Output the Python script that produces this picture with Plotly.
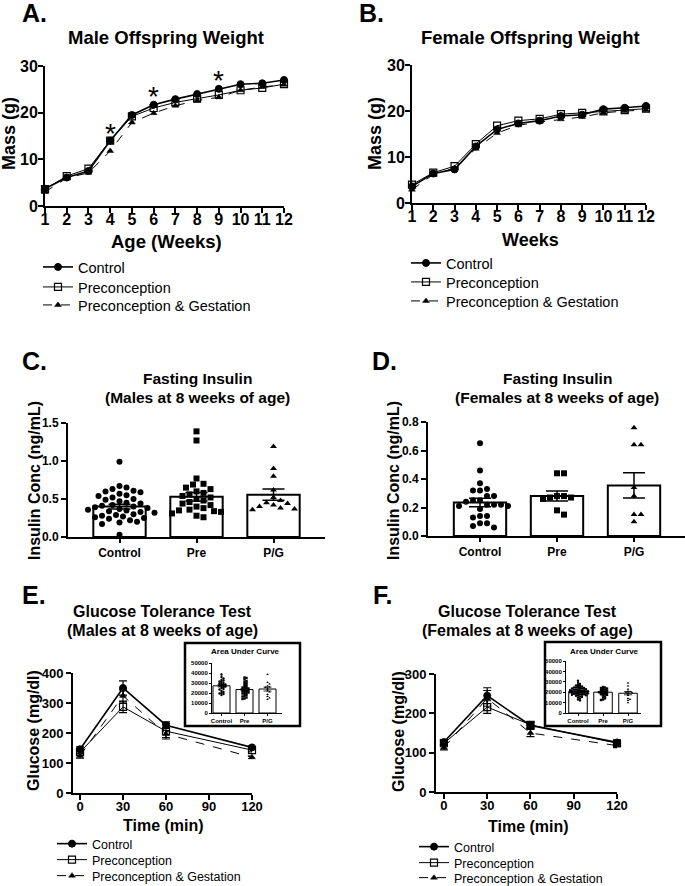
import plotly.graph_objects as go
import numpy as np

W, H = 685, 886
FONT = "Liberation Sans, Arial, Helvetica, sans-serif"

# ---------------- data ----------------
weeks = list(range(1, 13))
male_ctrl = [3.7, 6.1, 7.5, 14.0, 19.5, 21.7, 22.9, 24.0, 25.1, 26.1, 26.3, 27.0]
male_pre = [3.6, 6.4, 8.0, 14.0, 19.2, 21.0, 22.2, 23.0, 23.8, 24.8, 25.3, 26.1]
male_pg = [3.0, 6.0, 7.1, 11.8, 17.9, 19.9, 21.5, 22.6, 23.3, 24.8, 25.5, 26.0]
male_sig_weeks = [4, 6, 9]
male_sig_y = [16.7, 24.6, 27.9]

female_ctrl = [3.6, 6.4, 7.3, 12.3, 16.0, 17.3, 17.9, 18.9, 19.2, 20.4, 20.7, 21.1]
female_pre = [4.0, 6.6, 8.0, 12.8, 16.8, 17.9, 18.3, 19.3, 19.6, 19.9, 20.2, 20.5]
female_pg = [2.9, 6.2, 7.6, 11.8, 15.2, 16.9, 17.6, 18.2, 18.7, 19.6, 20.0, 20.2]

series_names = ["Control", "Preconception", "Preconception & Gestation"]
groups = ["Control", "Pre", "P/G"]

# fasting insulin, males (ng/mL)
ins_m_ctrl = [0.99, 0.67, 0.65, 0.63, 0.61, 0.60, 0.59, 0.57, 0.55, 0.54, 0.52, 0.50, 0.49,
              0.47, 0.45, 0.44, 0.42, 0.41, 0.40, 0.39, 0.38, 0.37, 0.36, 0.35, 0.34, 0.33,
              0.32, 0.30, 0.29, 0.28, 0.27, 0.26, 0.25, 0.24, 0.22, 0.20, 0.19, 0.17, 0.03]
ins_m_pre = [1.39, 1.27, 0.77, 0.70, 0.69, 0.65, 0.63, 0.60, 0.58, 0.56, 0.54, 0.52, 0.50,
             0.48, 0.46, 0.44, 0.42, 0.40, 0.38, 0.36, 0.35, 0.34, 0.33, 0.31, 0.28, 0.26]
ins_m_pg = [1.19, 0.90, 0.80, 0.62, 0.52, 0.48, 0.45, 0.44, 0.42, 0.40, 0.38, 0.37, 0.36]
ins_m_mean = [0.40, 0.53, 0.557]
ins_m_sem = [0.03, 0.055, 0.075]

# fasting insulin, females (ng/mL)
ins_f_ctrl = [0.65, 0.46, 0.37, 0.33, 0.32, 0.32, 0.28, 0.28, 0.25, 0.25, 0.24, 0.22,
              0.22, 0.22, 0.21, 0.21, 0.19, 0.14, 0.14, 0.13, 0.09, 0.09, 0.07, 0.06]
ins_f_pre = [0.44, 0.44, 0.28, 0.28, 0.27, 0.27, 0.26, 0.18, 0.15]
ins_f_pg = [0.76, 0.64, 0.64, 0.34, 0.28, 0.15, 0.15, 0.10]
ins_f_mean = [0.235, 0.28, 0.355]
ins_f_sem = [0.03, 0.035, 0.088]

# glucose tolerance test
gtt_time = [0, 30, 60, 120]
gtt_m_ctrl = [146, 350, 226, 152]
gtt_m_ctrl_err = [8, 24, 11, 5]
gtt_m_pre = [136, 287, 206, 143]
gtt_m_pre_err = [10, 19, 26, 6]
gtt_m_pg = [124, 324, 197, 119]
gtt_m_pg_err = [8, 20, 12, 4]

gtt_f_ctrl = [127, 245, 169, 126]
gtt_f_ctrl_err = [6, 20, 8, 5]
gtt_f_pre = [124, 216, 171, 124]
gtt_f_pre_err = [6, 16, 8, 6]
gtt_f_pg = [113, 238, 150, 118]
gtt_f_pg_err = [6, 20, 9, 5]

# area under curve insets
auc_m_ctrl = [38500, 36000, 34500, 33000, 32500, 31500, 31000, 30000, 29500, 29000, 28500,
              28000, 27500, 27000, 26500, 26000, 25000, 24000, 23500, 22000, 21000, 20000,
              19500, 19000, 18000]
auc_m_pre = [35500, 35000, 33500, 32000, 31000, 30000, 29000, 28000, 27000, 26000, 25500,
             25000, 24500, 24000, 23500, 23000, 22500, 22000, 21500, 21000, 20500, 20000,
             19500, 19000, 18000, 17000, 16500, 15500, 14500, 14000]
auc_m_pg = [38500, 30500, 29000, 27000, 26000, 25500, 24000, 22000, 21000, 18500, 16500,
            15000, 13500]
auc_m_mean = [27200, 23500, 24000]
auc_m_sem = [1100, 900, 2000]

auc_f_ctrl = [31000, 29000, 28000, 27000, 26500, 26000, 25500, 25000, 24500, 24500, 24000,
              24000, 23500, 23500, 23000, 23000, 22500, 22500, 22000, 22000, 22000, 21500,
              21500, 21000, 21000, 21000, 20500, 20500, 20000, 20000, 20000, 19500, 19500,
              19000, 19000, 19000, 18500, 18500, 18000, 18000, 17500, 17500, 17000, 17000,
              16500, 16000, 15500, 15000, 14000, 13000, 12000]
auc_f_pre = [25000, 24500, 24000, 23500, 23000, 22500, 22000, 21500, 21000, 20500, 20000,
             20000, 19500, 19000, 18500, 18000, 17500, 17000, 16000, 15000, 14000, 13000, 12500]
auc_f_pg = [29000, 26000, 23000, 21000, 20500, 20000, 19500, 19000, 17000, 14000, 13000,
            12000, 10000]
auc_f_mean = [20800, 20000, 19000]
auc_f_sem = [500, 700, 1500]


# ---------------- helpers ----------------
def px(x):
    return x / W


def py(y):
    return 1 - y / H


def swarm(vals, yscale, xscale, diam):
    """Deterministic beeswarm offsets (in x data units) so markers do not overlap."""
    vals = np.asarray(vals, float)
    order = np.argsort(-vals, kind="stable")
    placed = []
    off = np.zeros(len(vals))
    step = diam * 0.5
    cands = [0.0]
    for j in range(1, 80):
        cands += [j * step, -j * step]
    for i in order:
        yp = vals[i] * yscale
        c = 0.0
        for c in cands:
            if all((c - a) ** 2 + (yp - b) ** 2 >= diam ** 2 for a, b in placed):
                break
        placed.append((c, yp))
        off[i] = c / xscale
    return off


fig = go.Figure()
annotations = []
shapes = []
layout = dict(width=W, height=H, margin=dict(l=0, r=0, t=0, b=0, autoexpand=False),
              paper_bgcolor="white", plot_bgcolor="rgba(0,0,0,0)", showlegend=True)


def axis_style(tsize, lw=2, ticklen=5, tickw=2):
    return dict(showline=True, linecolor="black", linewidth=lw, ticks="outside",
                ticklen=ticklen, tickwidth=tickw, tickcolor="black", showgrid=False,
                zeroline=False, fixedrange=True, automargin=False,
                tickfont=dict(family=FONT, size=tsize, color="black", weight="bold"))


def make_axes(n, x0, x1, ytop, ybot, xr, yr, tsize, xextra=None, yextra=None, lw=2,
              ticklen=5, tickw=2):
    xa = "xaxis" if n == 1 else f"xaxis{n}"
    ya = "yaxis" if n == 1 else f"yaxis{n}"
    xid = "x" if n == 1 else f"x{n}"
    yid = "y" if n == 1 else f"y{n}"
    xd = axis_style(tsize, lw, ticklen, tickw)
    xd.update(domain=[px(x0), px(x1)], range=xr, anchor=yid)
    yd = axis_style(tsize, lw, ticklen, tickw)
    yd.update(domain=[py(ybot), py(ytop)], range=yr, anchor=xid)
    if xextra:
        xd.update(xextra)
    if yextra:
        yd.update(yextra)
    layout[xa] = xd
    layout[ya] = yd
    return xid, yid


def text(x, y, s, size, bold=True, angle=0, xanchor="center"):
    annotations.append(dict(x=px(x), y=py(y), xref="paper", yref="paper", text=s,
                            showarrow=False, textangle=angle, xanchor=xanchor,
                            yanchor="middle",
                            font=dict(family=FONT, size=size, color="black",
                                      weight="bold" if bold else "normal")))


legend_count = [0]


def new_legend(x, y, size):
    """One legend per entry so each row can be placed exactly."""
    legend_count[0] += 1
    k = legend_count[0]
    key = "legend" if k == 1 else f"legend{k}"
    layout[key] = dict(x=px(x), y=py(y), xref="container", yref="container",
                       xanchor="left", yanchor="middle", bgcolor="rgba(0,0,0,0)",
                       borderwidth=0, tracegroupgap=0, itemclick=False,
                       itemdoubleclick=False,
                       font=dict(family=FONT, size=size, color="black"))
    return key


styles = [
    dict(line=dict(color="black", width=1.6, dash="solid"),
         marker=dict(symbol="circle", size=7, color="black",
                     line=dict(color="black", width=1))),
    dict(line=dict(color="black", width=1.0, dash="solid"),
         marker=dict(symbol="square-open", size=7, color="black",
                     line=dict(color="black", width=1.2))),
    dict(line=dict(color="black", width=1.0, dash="dash"),
         marker=dict(symbol="triangle-up", size=6, color="black",
                     line=dict(color="black", width=0.5))),
]

# ---------------- Panel A ----------------
xa, ya = make_axes(1, 45, 284, 66, 206, [1, 12], [0, 30], 16,
                   xextra=dict(tickvals=weeks, ticklabelstandoff=-7),
                   yextra=dict(tickvals=[0, 10, 20, 30], ticklabelstandoff=-3))
for name, vals, st, ly in zip(series_names, [male_ctrl, male_pre, male_pg], styles,
                              [267, 287, 305]):
    fig.add_trace(go.Scatter(x=weeks, y=vals, mode="lines+markers", name=name, xaxis=xa,
                             yaxis=ya, cliponaxis=False, legend=new_legend(38, ly, 14.5),
                             **st))
for wk, yv in zip(male_sig_weeks, male_sig_y):
    annotations.append(dict(x=wk, y=yv, xref="x", yref="y", text="*", showarrow=False,
                            yshift=-5, font=dict(family=FONT, size=28, color="black")))
text(20, 13, "A.", 25, xanchor="left")
text(166, 37, "Male Offspring Weight", 18.5)
text(9, 134, "Mass (g)", 18, angle=-90)
text(166, 242, "Age (Weeks)", 18.5)

# ---------------- Panel B ----------------
xa, ya = make_axes(2, 412, 646, 65, 203, [1, 12], [0, 30], 16,
                   xextra=dict(tickvals=weeks, ticklabelstandoff=-7),
                   yextra=dict(tickvals=[0, 10, 20, 30], ticklabelstandoff=-3))
for name, vals, st, ly in zip(series_names, [female_ctrl, female_pre, female_pg], styles,
                              [263, 282, 301]):
    fig.add_trace(go.Scatter(x=weeks, y=vals, mode="lines+markers", name=name, xaxis=xa,
                             yaxis=ya, cliponaxis=False, legend=new_legend(406, ly, 14.5),
                             **st))
text(357, 13, "B.", 25, xanchor="left")
text(530, 37, "Female Offspring Weight", 18.5)
text(375, 134, "Mass (g)", 18, angle=-90)
text(530, 240, "Weeks", 18)

# ---------------- Panels C & D (fasting insulin) ----------------
ins_symbols = ["circle", "square", "triangle-up"]


def insulin_panel(n, x0, x1, ytop, ybot, yr, ytick, lists, means, sems, first_center):
    spacing = 77.0
    left = -(first_center - x0) / spacing
    right = left + (x1 - x0) / spacing
    xid, yid = make_axes(n, x0, x1, ytop, ybot, [left, right], yr, 12,
                         xextra=dict(tickvals=[0, 1, 2], ticktext=groups, ticklen=4),
                         yextra=dict(tickvals=ytick,
                                     ticktext=[f"{v:.1f}" for v in ytick]))
    fig.add_trace(go.Bar(x=[0, 1, 2], y=means, width=0.68, xaxis=xid, yaxis=yid,
                         marker=dict(color="white", line=dict(color="black", width=2)),
                         showlegend=False))
    yscale = (ybot - ytop) / (yr[1] - yr[0])
    for k, (vals, sym) in enumerate(zip(lists, ins_symbols)):
        off = swarm(vals, yscale, spacing, 7.0)
        fig.add_trace(go.Scatter(x=k + off, y=vals, mode="markers", xaxis=xid, yaxis=yid,
                                 cliponaxis=False, showlegend=False,
                                 marker=dict(symbol=sym, size=6, color="black",
                                             line=dict(width=0))))
    fig.add_trace(go.Scatter(x=[0, 1, 2], y=means, mode="markers", xaxis=xid, yaxis=yid,
                             showlegend=False, marker=dict(size=1, color="rgba(0,0,0,0)"),
                             error_y=dict(type="data", array=sems, color="black",
                                          thickness=1.5, width=11)))
    return xid, yid


insulin_panel(3, 68, 325, 423, 537, [0, 1.5], [0.0, 0.5, 1.0, 1.5],
              [ins_m_ctrl, ins_m_pre, ins_m_pg], ins_m_mean, ins_m_sem, 119.5)
text(20, 361, "C.", 25, xanchor="left")
text(197, 379, "Fasting Insulin", 15.5)
text(197, 397, "(Males at 8 weeks of age)", 15.5)
text(34, 481, "Insulin Conc (ng/mL)", 16, angle=-90)

insulin_panel(4, 428, 685, 422, 536, [0, 0.8], [0.0, 0.2, 0.4, 0.6, 0.8],
              [ins_f_ctrl, ins_f_pre, ins_f_pg], ins_f_mean, ins_f_sem, 480)
text(370, 361, "D.", 25, xanchor="left")
text(557, 379, "Fasting Insulin", 15.5)
text(557, 397, "(Females at 8 weeks of age)", 15.5)
text(393, 481, "Insulin Conc (ng/mL)", 16, angle=-90)


# ---------------- Panels E & F (GTT) ----------------
def gtt_panel(n, x0, x1, ytop, ybot, xr, yr, data, leg_x, leg_ys):
    xid, yid = make_axes(n, x0, x1, ytop, ybot, xr, yr, 13,
                         xextra=dict(tickvals=[0, 30, 60, 90, 120], ticklabelstandoff=-5),
                         yextra=dict(dtick=100, tick0=0))
    for name, (vals, err), st, ly in zip(series_names, data, styles, leg_ys):
        fig.add_trace(go.Scatter(x=gtt_time, y=vals, mode="lines+markers", name=name,
                                 xaxis=xid, yaxis=yid, cliponaxis=False,
                                 legend=new_legend(leg_x, ly, 12.5),
                                 error_y=dict(type="data", array=err, color="black",
                                              thickness=1.2, width=4), **st))
    return xid, yid


def auc_panel(n, x0, x1, ytop, ybot, first_center, spacing, lists, means, sems):
    left = -(first_center - x0) / spacing
    right = left + (x1 - x0) / spacing
    xid, yid = make_axes(n, x0, x1, ytop, ybot, [left, right], [0, 50000], 6,
                         xextra=dict(tickvals=[0, 1, 2], ticktext=groups, ticklen=2),
                         yextra=dict(tickvals=[0, 10000, 20000, 30000, 40000, 50000],
                                     ticktext=["0", "10000", "20000", "30000", "40000",
                                               "50000"], ticklen=2),
                         lw=1, ticklen=2, tickw=1)
    fig.add_trace(go.Bar(x=[0, 1, 2], y=means, width=0.74, xaxis=xid, yaxis=yid,
                         showlegend=False,
                         marker=dict(color="white", line=dict(color="black", width=1))))
    yscale = (ybot - ytop) / 50000.0
    for k, vals in enumerate(lists):
        off = swarm(vals, yscale, spacing, 2.0)
        sym = ins_symbols[k]
        fig.add_trace(go.Scatter(x=k + off, y=vals, mode="markers", xaxis=xid, yaxis=yid,
                                 cliponaxis=False, showlegend=False,
                                 marker=dict(symbol=sym, size=2.4, color="black",
                                             line=dict(width=0))))
    fig.add_trace(go.Scatter(x=[0, 1, 2], y=means, mode="markers", xaxis=xid, yaxis=yid,
                             showlegend=False, marker=dict(size=1, color="rgba(0,0,0,0)"),
                             error_y=dict(type="data", array=sems, color="black",
                                          thickness=0.8, width=4)))


gtt_panel(5, 73, 252, 673, 793, [-4.9, 120], [0, 400],
          [(gtt_m_ctrl, gtt_m_ctrl_err), (gtt_m_pre, gtt_m_pre_err),
           (gtt_m_pg, gtt_m_pg_err)], 52, [844, 860, 876])
text(20, 595, "E.", 25, xanchor="left")
text(162, 611, "Glucose Tolerance Test", 16)
text(162, 630, "(Males at 8 weeks of age)", 16)
text(33, 731, "Glucose (mg/dl)", 16, angle=-90)
text(163, 825, "Time (min)", 16)
shapes.append(dict(type="rect", xref="paper", yref="paper", x0=px(185), x1=px(300),
                   y0=py(726), y1=py(643), line=dict(color="black", width=2.5),
                   fillcolor="rgba(0,0,0,0)", layer="below"))
auc_panel(7, 212, 282, 663, 713, 221.5, 23.0, [auc_m_ctrl, auc_m_pre, auc_m_pg],
          auc_m_mean, auc_m_sem)
text(245, 651, "Area Under Curve", 8)

gtt_panel(6, 436, 617, 674, 792, [-5.5, 120], [0, 300],
          [(gtt_f_ctrl, gtt_f_ctrl_err), (gtt_f_pre, gtt_f_pre_err),
           (gtt_f_pg, gtt_f_pg_err)], 414, [847, 863, 878])
text(371, 595, "F.", 25, xanchor="left")
text(527, 611, "Glucose Tolerance Test", 16)
text(527, 630, "(Females at 8 weeks of age)", 16)
text(398, 732, "Glucose (mg/dl)", 16, angle=-90)
text(528, 826, "Time (min)", 16)
shapes.append(dict(type="rect", xref="paper", yref="paper", x0=px(545), x1=px(661),
                   y0=py(726), y1=py(642), line=dict(color="black", width=2.5),
                   fillcolor="rgba(0,0,0,0)", layer="below"))
auc_panel(8, 566, 641, 661, 713, 578, 25.0, [auc_f_ctrl, auc_f_pre, auc_f_pg],
          auc_f_mean, auc_f_sem)
text(604, 651, "Area Under Curve", 8)

layout["annotations"] = annotations
layout["shapes"] = shapes
fig.update_layout(**layout)
fig.write_html("out.html", config={"displayModeBar": False},
               post_script="document.body.style.margin='0';"
                           "document.body.style.padding='0';"
                           "document.body.style.overflow='hidden';")
